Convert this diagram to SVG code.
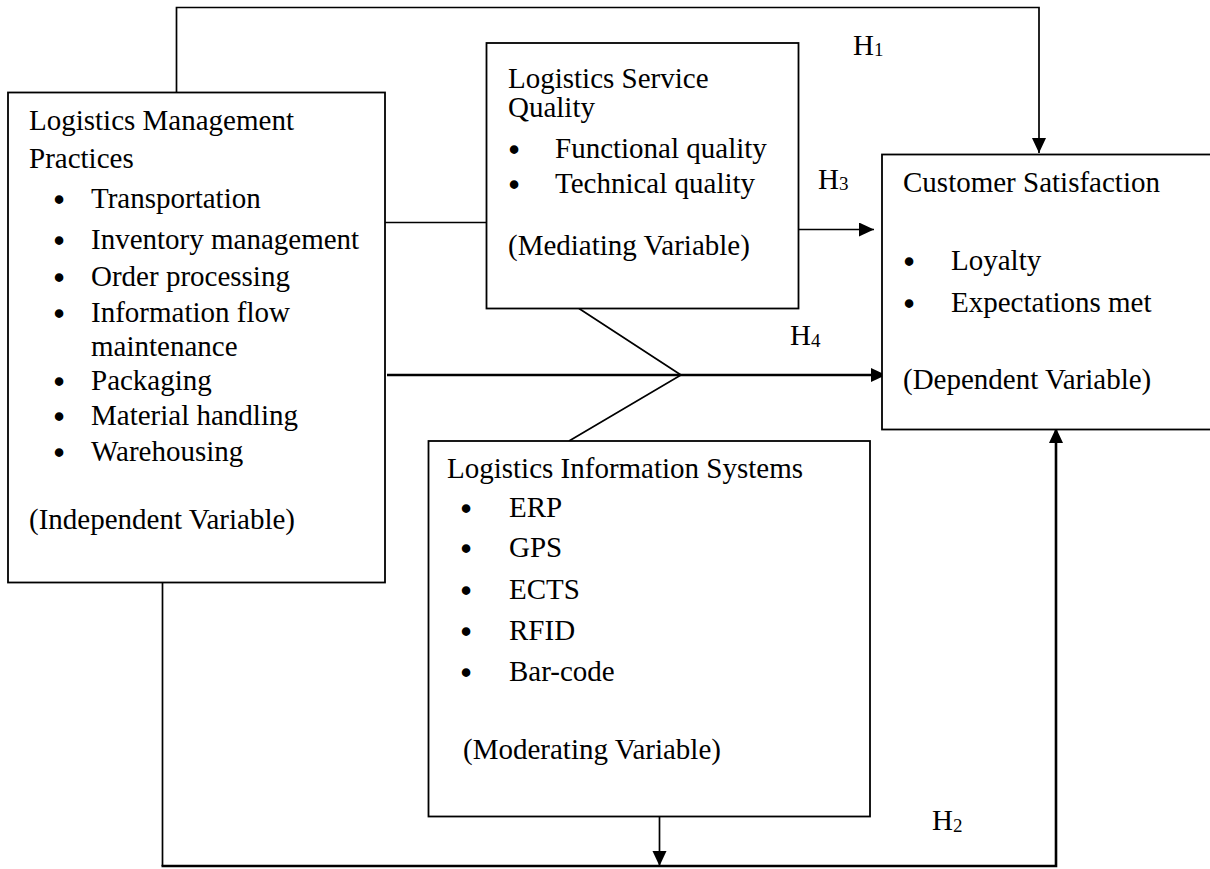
<svg xmlns="http://www.w3.org/2000/svg" width="1210" height="869" viewBox="0 0 1210 869">
  <style>
    text { font-family: "Liberation Serif", "Times New Roman", serif; font-size: 29px; fill: #000; }
    text.blt { text-anchor: middle; stroke: #000; stroke-width: 1.6; }
    .box { fill: #fff; stroke: #000; stroke-width: 1.8; }
    .wire { fill: none; stroke: #000; stroke-width: 1.7; }
    .heavy { fill: none; stroke: #000; stroke-width: 2.6; }
    .sub { font-size: 19px; }
  </style>
  <defs>
    <marker id="arrow" markerUnits="userSpaceOnUse" markerWidth="16" markerHeight="15" refX="15" refY="7" orient="auto">
      <path d="M0,0 L15,7 L0,14 Z" fill="#000"/>
    </marker>
  </defs>

  <rect width="1210" height="869" fill="#fff"/>

  <!-- connectors -->
  <g id="connectors">
    <!-- H1: practices to satisfaction over the top -->
    <polyline class="wire" points="176.5,92 176.5,7.5 1039,7.5 1039,153" marker-end="url(#arrow)"/>
    <!-- practices to service quality -->
    <line class="wire" x1="385" y1="222.5" x2="486" y2="222.5"/>
    <!-- H3: service quality to satisfaction -->
    <line class="wire" x1="799" y1="229.5" x2="874" y2="229.5" marker-end="url(#arrow)"/>
    <!-- H4: direct path with moderation -->
    <line class="heavy" x1="387" y1="375" x2="886" y2="375" marker-end="url(#arrow)"/>
    <polyline class="wire" points="579,308.5 681,375 569,441"/>
    <!-- H2: practices to satisfaction along the bottom -->
    <line class="wire" x1="162.5" y1="582" x2="162.5" y2="866"/>
    <polyline class="heavy" points="161.5,866 1056,866 1056,428" marker-end="url(#arrow)"/>
    <!-- information systems down to the H2 path -->
    <line class="wire" x1="659.5" y1="817" x2="659.5" y2="866" marker-end="url(#arrow)"/>
  </g>

  <!-- hypothesis labels -->
  <g id="labels">
    <text x="853" y="55">H<tspan class="sub" dy="1">1</tspan></text>
    <text x="818" y="189">H<tspan class="sub" dy="1">3</tspan></text>
    <text x="790" y="345">H<tspan class="sub" dy="2">4</tspan></text>
    <text x="932" y="830">H<tspan class="sub" dy="2">2</tspan></text>
  </g>

  <!-- independent variable -->
  <g id="logistics-management-practices">
    <rect class="box" x="8" y="92.5" width="377" height="490"/>
    <text x="29" y="130">Logistics Management</text>
    <text x="29" y="168">Practices</text>
    <text class="blt" x="59" y="210">•</text><text x="91" y="208">Transportation</text>
    <text class="blt" x="59" y="251">•</text><text x="91" y="249">Inventory management</text>
    <text class="blt" x="59" y="288">•</text><text x="91" y="286">Order processing</text>
    <text class="blt" x="59" y="324">•</text><text x="91" y="322">Information flow</text>
    <text x="91" y="356">maintenance</text>
    <text class="blt" x="59" y="392">•</text><text x="91" y="390">Packaging</text>
    <text class="blt" x="59" y="427">•</text><text x="91" y="425">Material handling</text>
    <text class="blt" x="59" y="463">•</text><text x="91" y="461">Warehousing</text>
    <text x="29" y="529">(Independent Variable)</text>
  </g>

  <!-- mediating variable -->
  <g id="logistics-service-quality">
    <rect class="box" x="486.5" y="43" width="312" height="265.5"/>
    <text x="508" y="88">Logistics Service</text>
    <text x="508" y="117">Quality</text>
    <text class="blt" x="514" y="160">•</text><text x="555" y="158">Functional quality</text>
    <text class="blt" x="514" y="195">•</text><text x="555" y="193">Technical quality</text>
    <text x="508" y="255">(Mediating Variable)</text>
  </g>

  <!-- dependent variable -->
  <g id="customer-satisfaction">
    <rect class="box" x="882" y="154.5" width="340" height="275"/>
    <text x="903" y="192">Customer Satisfaction</text>
    <text class="blt" x="909" y="272">•</text><text x="951" y="270">Loyalty</text>
    <text class="blt" x="909" y="314">•</text><text x="951" y="312">Expectations met</text>
    <text x="903" y="389">(Dependent Variable)</text>
  </g>

  <!-- moderating variable -->
  <g id="logistics-information-systems">
    <rect class="box" x="428.5" y="441" width="441.5" height="375.5"/>
    <text x="447" y="478">Logistics Information Systems</text>
    <text class="blt" x="466" y="519">•</text><text x="509" y="517">ERP</text>
    <text class="blt" x="466" y="559">•</text><text x="509" y="557">GPS</text>
    <text class="blt" x="466" y="601">•</text><text x="509" y="599">ECTS</text>
    <text class="blt" x="466" y="642">•</text><text x="509" y="640">RFID</text>
    <text class="blt" x="466" y="683">•</text><text x="509" y="681">Bar-code</text>
    <text x="463" y="759">(Moderating Variable)</text>
  </g>
</svg>
